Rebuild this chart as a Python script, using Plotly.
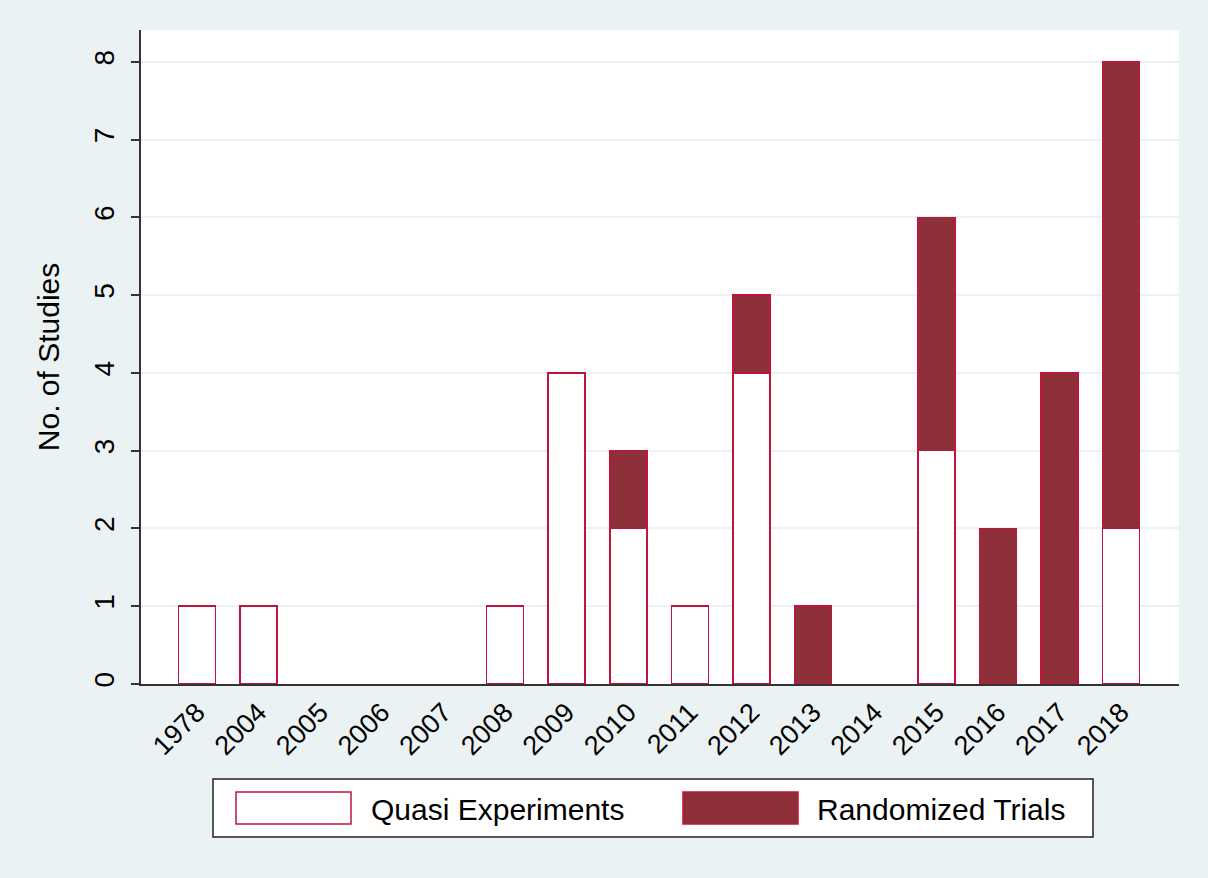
import plotly.graph_objects as go

years = ["1978", "2004", "2005", "2006", "2007", "2008", "2009", "2010",
         "2011", "2012", "2013", "2014", "2015", "2016", "2017", "2018"]
quasi = [1, 1, 0, 0, 0, 1, 4, 2, 1, 4, 0, 0, 3, 0, 0, 2]
randomized = [0, 0, 0, 0, 0, 0, 0, 1, 0, 1, 1, 0, 3, 2, 4, 6]
y_ticks = [0, 1, 2, 3, 4, 5, 6, 7, 8]

BG = "#EAF2F3"
EDGE = "#C0143C"
FILL_R = "#8E3039"
FONT = "Liberation Sans, Arial, Helvetica, sans-serif"

W, H = 1208, 878
L, R, T, B = 141, 29, 30, 194

fig = go.Figure()
fig.add_trace(go.Bar(x=years, y=[v if v else None for v in quasi],
                     name="Quasi Experiments",
                     marker=dict(color="white", line=dict(color=EDGE, width=1.5)),
                     width=0.6))
fig.add_trace(go.Bar(x=years, y=[v if v else None for v in randomized],
                     name="Randomized Trials",
                     marker=dict(color=FILL_R, line=dict(color=EDGE, width=1.5)),
                     width=0.6))

fig.update_layout(
    barmode="stack",
    width=W, height=H,
    margin=dict(l=L, r=R, t=T, b=B),
    paper_bgcolor=BG, plot_bgcolor="white",
    font=dict(family=FONT, color="black", size=26),
    showlegend=False,
)
fig.update_xaxes(
    type="category", range=[-0.91, 15.94],
    tickangle=-45, tickfont=dict(size=27), ticks="",
    showline=True, linecolor="#333333", linewidth=1.5,
    showgrid=False,
)
fig.update_yaxes(
    range=[0, 8.41], tickvals=y_ticks, tickangle=-90,
    tickfont=dict(size=28), ticks="outside", ticklen=8, tickcolor="#333333",
    tickwidth=1.5, ticklabelstandoff=6,
    showline=True, linecolor="#333333", linewidth=1.5,
    showgrid=True, gridcolor=BG, gridwidth=1.5, zeroline=False,
    title=dict(text="No. of Studies", font=dict(size=30), standoff=21),
)

# Manual legend (paper coordinates)
pw, ph = W - L - R, H - T - B
def px(x):
    return (x - L) / pw
def py(y):
    return (H - B - y) / ph

fig.add_shape(type="rect", xref="paper", yref="paper",
              x0=px(213), x1=px(1093), y0=py(837), y1=py(779),
              fillcolor="white", line=dict(color="#222222", width=1.5))
fig.add_shape(type="rect", xref="paper", yref="paper",
              x0=px(236), x1=px(351), y0=py(824), y1=py(792),
              fillcolor="white", line=dict(color=EDGE, width=1.5))
fig.add_shape(type="rect", xref="paper", yref="paper",
              x0=px(683), x1=px(798), y0=py(824), y1=py(792),
              fillcolor=FILL_R, line=dict(color=EDGE, width=1.5))
fig.add_annotation(xref="paper", yref="paper", x=px(369), y=py(809),
                   text="Quasi Experiments", showarrow=False,
                   xanchor="left", yanchor="middle", font=dict(size=30))
fig.add_annotation(xref="paper", yref="paper", x=px(815), y=py(809),
                   text="Randomized Trials", showarrow=False,
                   xanchor="left", yanchor="middle", font=dict(size=30))

fig.write_html("out.html",
               config={"displayModeBar": False},
               post_script="document.body.style.margin='0';"
                           "document.body.style.background='" + BG + "';")
